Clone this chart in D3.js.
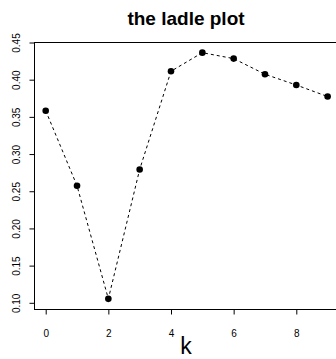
<!DOCTYPE html>
<html>
<head>
<meta charset="utf-8">
<script src="https://cdn.jsdelivr.net/npm/d3@7"></script>
<style>
  body { margin: 0; background: #fff; }
  svg { display: block; font-family: "Liberation Sans", Arial, sans-serif; }
</style>
</head>
<body>
<div id="chart"></div>
<script>
const kValues = [0, 1, 2, 3, 4, 5, 6, 7, 8, 9];
const ladleValues = [0.359, 0.258, 0.106, 0.280, 0.412, 0.437, 0.429, 0.408, 0.3935, 0.378];
const xTicks = [0, 2, 4, 6, 8];
const yTicks = [0.10, 0.15, 0.20, 0.25, 0.30, 0.35, 0.40, 0.45];

const width = 336, height = 359;
const svg = d3.select('#chart').append('svg')
    .attr('width', width)
    .attr('height', height);

const xScale = d3.scaleLinear().domain([0, 8]).range([45.7, 296.3]);
const yScale = d3.scaleLinear().domain([0.10, 0.45]).range([303.3, 43]);

const plotLeft = 34.5, plotTop = 42.5, plotBottom = 309.5, plotRight = 340;

// box
svg.append('rect')
    .attr('x', plotLeft).attr('y', plotTop)
    .attr('width', plotRight - plotLeft).attr('height', plotBottom - plotTop)
    .attr('fill', 'none').attr('stroke', '#000').attr('stroke-width', 1);

// title
svg.append('text')
    .attr('x', 186).attr('y', 25)
    .attr('text-anchor', 'middle')
    .style('font-weight', 'bold').style('font-size', '19px')
    .text('the ladle plot');

// x axis
const xAxis = svg.append('g')
    .attr('transform', `translate(0,${plotBottom})`)
    .call(d3.axisBottom(xScale).tickValues(xTicks).tickSize(5).tickSizeOuter(0).tickPadding(15).tickFormat(d3.format('d')));
xAxis.select('.domain').remove();
xAxis.selectAll('text').style('font-size', '10px').attr('fill', '#000');

// y axis
const yAxis = svg.append('g')
    .attr('transform', `translate(${plotLeft},0)`)
    .call(d3.axisLeft(yScale).tickValues(yTicks).tickSize(5).tickSizeOuter(0).tickFormat(d3.format('.2f')));
yAxis.select('.domain').remove();
yAxis.selectAll('.tick').attr('transform', null);
yAxis.selectAll('.tick line').attr('y1', d => yScale(d)).attr('y2', d => yScale(d));
yAxis.selectAll('text')
    .style('font-size', '10px').attr('fill', '#000')
    .attr('x', null).attr('y', null).attr('dy', null)
    .attr('text-anchor', 'middle')
    .attr('transform', d => `translate(-14.5,${yScale(d)}) rotate(-90)`);

// x label
svg.append('text')
    .attr('x', 186).attr('y', 354)
    .attr('text-anchor', 'middle')
    .style('font-size', '23px')
    .text('k');

const pts = kValues.map((k, i) => ({k: k, v: ladleValues[i]}));

const line = d3.line()
    .x(d => xScale(d.k))
    .y(d => yScale(d.v));

svg.append('path')
    .datum(pts)
    .attr('d', line)
    .attr('fill', 'none')
    .attr('stroke', '#000')
    .attr('stroke-width', 1)
    .attr('stroke-dasharray', '3,3');

svg.selectAll('.dot')
    .data(pts)
    .enter()
    .append('circle')
    .attr('class', 'dot')
    .attr('cx', d => xScale(d.k))
    .attr('cy', d => yScale(d.v))
    .attr('r', 3.3)
    .attr('fill', '#000');
</script>
</body>
</html>
